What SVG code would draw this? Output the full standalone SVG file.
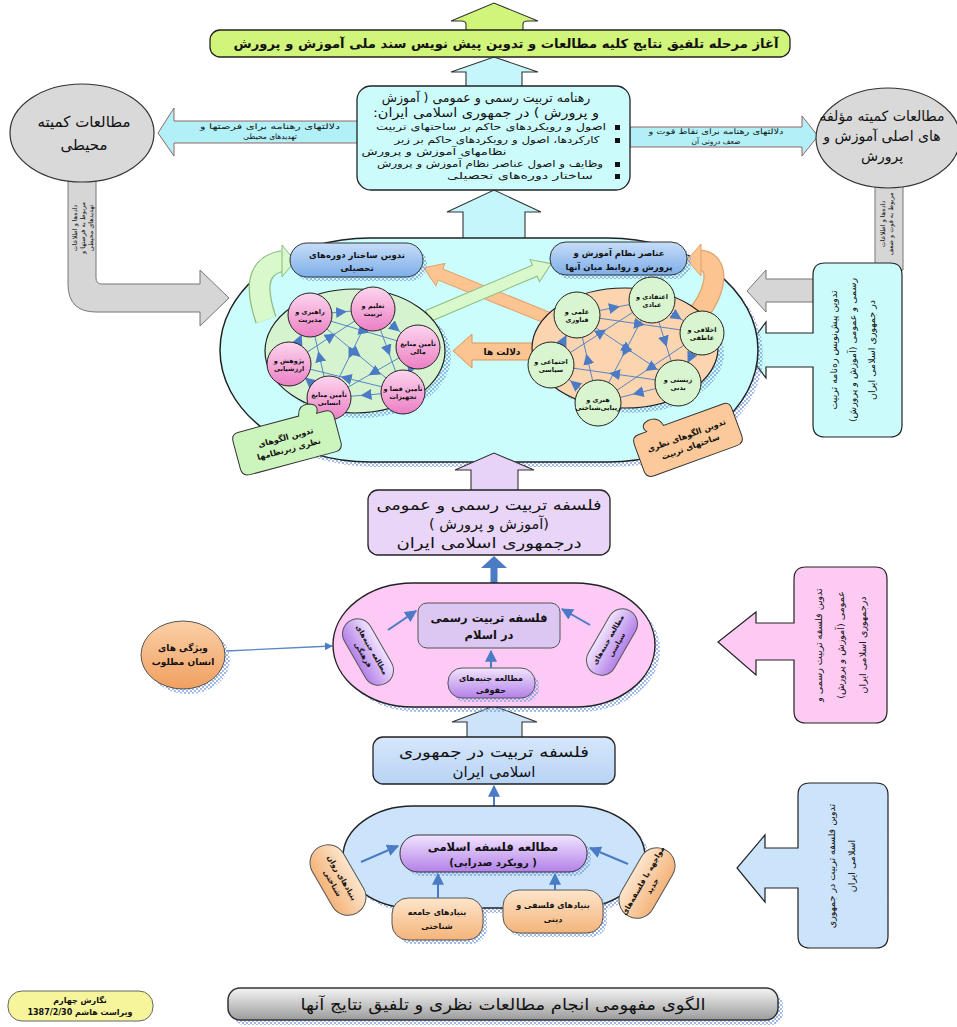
<svg xmlns="http://www.w3.org/2000/svg" width="957" height="1027" viewBox="0 0 957 1027">
<defs>
<style>
.t{font-family:"DejaVu Sans",sans-serif;fill:#111;direction:rtl}
.b{font-weight:bold}
.net{stroke:#4a7bc4;stroke-width:0.9;fill:none;marker-mid:url(#tri)}
.conn{stroke:#4a7bc4;stroke-width:2;fill:none;marker-end:url(#ah)}
.hat{fill:url(#hatch);opacity:0.75}
</style>
<pattern id="hatch" width="4" height="4" patternUnits="userSpaceOnUse">
<rect x="0" y="0" width="2" height="2" fill="#7ea3dc"/><rect x="2" y="2" width="2" height="2" fill="#7ea3dc"/>
</pattern>
<marker id="tri" viewBox="0 0 10 10" refX="5" refY="5" markerWidth="11" markerHeight="11" markerUnits="userSpaceOnUse" orient="auto">
<path d="M0,0 L10,5 L0,10 z" fill="#4a7bc4"/>
</marker>
<marker id="ah" viewBox="0 0 10 10" refX="9" refY="5" markerWidth="6" markerHeight="6" orient="auto">
<path d="M0,0 L10,5 L0,10 z" fill="#4a7bc4"/>
</marker>
<linearGradient id="gBluePill" x1="0" y1="0" x2="0" y2="1"><stop offset="0" stop-color="#c6ddf8"/><stop offset="1" stop-color="#7eaee9"/></linearGradient>
<linearGradient id="gPink" x1="0" y1="0" x2="0" y2="1"><stop offset="0" stop-color="#fcd6ee"/><stop offset="1" stop-color="#ec7fc4"/></linearGradient>
<linearGradient id="gPurple" x1="0" y1="0" x2="0" y2="1"><stop offset="0" stop-color="#f1e4ff"/><stop offset="1" stop-color="#b381e8"/></linearGradient>
<linearGradient id="gOrange" x1="0" y1="0" x2="0" y2="1"><stop offset="0" stop-color="#fde5cc"/><stop offset="1" stop-color="#f4b47a"/></linearGradient>
<linearGradient id="gOrangeC" x1="0" y1="0" x2="0" y2="1"><stop offset="0" stop-color="#fbcfa8"/><stop offset="1" stop-color="#f0a060"/></linearGradient>
<linearGradient id="gBlueBox" x1="0" y1="0" x2="0" y2="1"><stop offset="0" stop-color="#d6e7fb"/><stop offset="1" stop-color="#b7d3f5"/></linearGradient>
<linearGradient id="gGray" x1="0" y1="0" x2="0" y2="1"><stop offset="0" stop-color="#f4f4f4"/><stop offset="1" stop-color="#9c9c9c"/></linearGradient>
</defs>

<rect width="957" height="1027" fill="#ffffff"/>

<g id="connectors">
<path d="M466 32 V24 Q466 21 461 21 H451 L494 3 L538 21 H528 Q523 21 523 24 V32 Z" fill="#d0f57a" stroke="#333" stroke-width="1.1"/>
<path d="M466 90 V72 H451 L494 57 L538 72 H522 V90 Z" fill="#c4f6fb" stroke="#333" stroke-width="1.1"/>
<path d="M463 242 V212 H447 L494 190 L541 212 H525 V242 Z" fill="#c4f6fb" stroke="#333" stroke-width="1.1"/>
<path d="M358 121 H174 V108 L158 133 L174 156 V143 H358 Z" fill="#b2f0f8" stroke="#8a5555" stroke-width="0.9"/>
<text class="t" x="270" y="129" font-size="7.5" text-anchor="middle" textLength="140" lengthAdjust="spacingAndGlyphs">دلالتهای رهنامه برای فرصتها و</text>
<text class="t" x="270" y="138.5" font-size="7.5" text-anchor="middle">تهدیدهای محیطی</text>
<path d="M630 127 H802 V116 L818 136 L802 156 V147 H630 Z" fill="#b2f0f8" stroke="#8a5555" stroke-width="0.9"/>
<text class="t" x="716" y="134" font-size="7.5" text-anchor="middle" textLength="135" lengthAdjust="spacingAndGlyphs">دلالتهای رهنامه برای نقاط قوت و</text>
<text class="t" x="716" y="143.5" font-size="7.5" text-anchor="middle">ضعف درونی آن</text>
<path d="M68 180 V284 Q68 312 96 312 H200 V326 L229 298 L200 270 V284 H102 Q96 284 96 278 V180 Z" fill="#d6d6d6" stroke="#777" stroke-width="1"/>
<g transform="translate(82,228) rotate(-90)">
<text class="t" x="0" y="-5" font-size="6.5" text-anchor="middle">داده‌ها و اطلاعات</text>
<text class="t" x="0" y="3" font-size="6.5" text-anchor="middle">مربوط به فرصتها و</text>
<text class="t" x="0" y="11" font-size="6.5" text-anchor="middle">تهدیدهای محیطی</text>
</g>
<path d="M875 186 V270 H903 V186 Z" fill="#d6d6d6" stroke="#777" stroke-width="1"/>
<g transform="translate(889,224) rotate(-90)">
<text class="t" x="0" y="-4" font-size="6.5" text-anchor="middle">داده‌ها و اطلاعات</text>
<text class="t" x="0" y="4" font-size="6.5" text-anchor="middle">مربوط به قوت و ضعف</text>
</g>
<path d="M820 279 H766 V270 L747 291 L766 312 V302 H820 Z" fill="#d6d6d6" stroke="#777" stroke-width="1"/>
<line x1="226" y1="651" x2="332" y2="646" stroke="#5a86c6" stroke-width="1.3" marker-end="url(#ah)"/>
</g>

<g id="banner">
<rect x="210" y="30" width="580" height="27" rx="10" fill="#d0f57a" stroke="#222" stroke-width="1.3"/>
<text class="t b" x="506" y="48" font-size="12.5" text-anchor="middle" textLength="545" lengthAdjust="spacingAndGlyphs">آغاز مرحله تلفیق نتایج کلیه مطالعات و تدوین  پیش نویس سند ملی آموزش و پرورش</text>
</g>

<g id="doctrine-box">
<rect x="357" y="86" width="273" height="104" rx="14" fill="#ccfbfc" stroke="#222" stroke-width="1.3"/>
<text class="t" x="486" y="102" font-size="12.5" text-anchor="middle">رهنامه تربیت رسمی و عمومی ( آموزش</text>
<text class="t" x="486" y="117" font-size="12.5" text-anchor="middle" textLength="226" lengthAdjust="spacingAndGlyphs">و پرورش ) در جمهوری اسلامی ایران:</text>
<g fill="#111">
<rect x="615" y="125" width="5" height="5"/><rect x="615" y="138" width="5" height="5"/><rect x="615" y="162" width="5" height="5"/><rect x="615" y="174" width="5" height="5"/>
</g>
<text class="t" x="491" y="130" font-size="9.5" text-anchor="middle" textLength="230" lengthAdjust="spacingAndGlyphs">اصول و رویکردهای حاکم بر ساحتهای تربیت</text>
<text class="t" x="497" y="143" font-size="9.5" text-anchor="middle" textLength="205" lengthAdjust="spacingAndGlyphs">کارکردها، اصول و رویکردهای حاکم بر زیر</text>
<text class="t" x="434" y="155" font-size="9.5" text-anchor="middle" textLength="145" lengthAdjust="spacingAndGlyphs">نظامهای آموزش و پرورش</text>
<text class="t" x="490" y="167" font-size="9.5" text-anchor="middle" textLength="226" lengthAdjust="spacingAndGlyphs">وظایف و اصول عناصر نظام آموزش و پرورش</text>
<text class="t" x="520" y="179" font-size="9.5" text-anchor="middle" textLength="146" lengthAdjust="spacingAndGlyphs">ساختار دوره‌های تحصیلی</text>
</g>

<g id="env-committee">
<ellipse cx="82" cy="133" rx="72" ry="49" fill="#d9d9d9" stroke="#333" stroke-width="1.2"/>
<text class="t" x="84" y="127" font-size="15" text-anchor="middle">مطالعات کمیته</text>
<text class="t" x="84" y="150" font-size="15" text-anchor="middle">محیطی</text>
</g>

<g id="components-committee">
<ellipse cx="888" cy="138" rx="72" ry="50" fill="#d9d9d9" stroke="#333" stroke-width="1.2"/>
<text class="t" x="882" y="121" font-size="14" text-anchor="middle">مطالعات کمیته مؤلفه</text>
<text class="t" x="882" y="141" font-size="14" text-anchor="middle">های اصلی آموزش و</text>
<text class="t" x="882" y="161" font-size="14" text-anchor="middle">پرورش</text>
</g>

<g id="doctrine-draft">
<path d="M825 263 H890 Q902 263 902 275 V425 Q902 437 890 437 H825 Q813 437 813 425 V367 H766 V378 L745 350 L766 322 V333 H813 V275 Q813 263 825 263 Z" fill="#ccfbfc" stroke="#222" stroke-width="1.2"/>
<g transform="translate(857,350) rotate(-90)">
<text class="t" x="0" y="-20" font-size="9.5" text-anchor="middle">تدوین پیش‌نویس ره‌نامه تربیت</text>
<text class="t" x="0" y="-1" font-size="9.5" text-anchor="middle">رسمی و عمومی (آموزش و پرورش)</text>
<text class="t" x="0" y="18" font-size="9.5" text-anchor="middle">در جمهوری اسلامی ایران</text>
</g>
</g>

<g id="integration-oval">
<rect x="225" y="243" width="538" height="224" rx="150" ry="112" class="hat"/>
<rect x="220" y="238" width="538" height="224" rx="150" ry="112" fill="#ccfdfd" stroke="#222" stroke-width="1.5"/>
</g>

<g id="inner-arrows">
<path d="M266 320 C258 296 252 266 283 261" fill="none" stroke="#8dbb7e" stroke-width="22"/>
<path d="M266 320 C258 296 252 266 283 261" fill="none" stroke="#d9f8cc" stroke-width="19.5"/>
<path d="M282 245 L295 261 L282 277 Z" fill="#d9f8cc" stroke="#8dbb7e" stroke-width="1"/>
<path d="M692 320 C714 300 724 262 700 260" fill="none" stroke="#e2a36c" stroke-width="21"/>
<path d="M692 320 C714 300 724 262 700 260" fill="none" stroke="#fbc490" stroke-width="18.5"/>
<path d="M701 244 L687 260 L701 276 Z" fill="#fbc490" stroke="#e2a36c" stroke-width="1"/>
<g transform="translate(548,318) rotate(202)">
<path d="M0,-6 H116 V-12 L134,0 L116,12 V6 H0 Z" fill="#fbc490" stroke="#e2a36c" stroke-width="1"/>
</g>
<g transform="translate(428,316) rotate(-23)">
<path d="M0,-6 H116 V-12 L134,0 L116,12 V6 H0 Z" fill="#d9f8cc" stroke="#8dbb7e" stroke-width="1"/>
</g>
<path d="M540 343 H472 V334 L453 351 L472 368 V360 H540 Z" fill="#fbc490" stroke="#d9975c" stroke-width="1"/>
<text class="t b" x="502" y="355" font-size="9" text-anchor="middle">دلالت ها</text>
</g>

<g id="structure-pill">
<rect x="294" y="247" width="133" height="34" rx="17" class="hat"/>
<rect x="290" y="243" width="133" height="34" rx="17" fill="url(#gBluePill)" stroke="#333" stroke-width="1"/>
<text class="t b" x="357" y="258" font-size="8.5" text-anchor="middle">تدوین ساختار دوره‌های</text>
<text class="t b" x="357" y="271" font-size="8.5" text-anchor="middle">تحصیلی</text>
</g>

<g id="elements-pill">
<rect x="554" y="246" width="137" height="33" rx="16" class="hat"/>
<rect x="550" y="242" width="137" height="33" rx="16" fill="url(#gBluePill)" stroke="#333" stroke-width="1"/>
<text class="t b" x="619" y="256" font-size="8.5" text-anchor="middle">عناصر نظام آموزش و</text>
<text class="t b" x="619" y="270" font-size="8.5" text-anchor="middle">پرورش و روابط میان آنها</text>
</g>

<g id="subsystems">
<ellipse cx="361" cy="356" rx="90" ry="62" class="hat"/>
<ellipse cx="355" cy="351" rx="90" ry="62" fill="#d6f3cf" stroke="#222" stroke-width="1.2"/>
<path class="net" d="M310 315 L341.5 312 L373 309"/>
<path class="net" d="M373 309 L395.5 328 L418 347"/>
<path class="net" d="M418 347 L410.5 369.5 L403 392"/>
<path class="net" d="M403 392 L366 395 L329 398"/>
<path class="net" d="M329 398 L309 381 L289 364"/>
<path class="net" d="M289 364 L299.5 339.5 L310 315"/>
<path class="net" d="M310 315 L364 331 L418 347"/>
<path class="net" d="M373 309 L388 350.5 L403 392"/>
<path class="net" d="M418 347 L373.5 372.5 L329 398"/>
<path class="net" d="M403 392 L346 378 L289 364"/>
<path class="net" d="M329 398 L319.5 356.5 L310 315"/>
<path class="net" d="M289 364 L331 336.5 L373 309"/>
<path class="net" d="M310 315 L356.5 353.5 L403 392"/>
<path class="net" d="M373 309 L351 353.5 L329 398"/>
<g stroke="#222" stroke-width="1" fill="url(#gPink)">
<circle cx="310" cy="315" r="22"/><circle cx="373" cy="309" r="22"/><circle cx="418" cy="347" r="22"/>
<circle cx="403" cy="392" r="22"/><circle cx="329" cy="398" r="22"/><circle cx="289" cy="364" r="22"/>
</g>
<g font-size="6.5" text-anchor="middle">
<text class="t b" x="310" y="314">راهبری و</text><text class="t b" x="310" y="322">مدیریت</text>
<text class="t b" x="373" y="308">تعلیم و</text><text class="t b" x="373" y="316">تربیت</text>
<text class="t b" x="418" y="346">تأمین منابع</text><text class="t b" x="418" y="354">مالی</text>
<text class="t b" x="403" y="391">تأمین فضا و</text><text class="t b" x="403" y="399">تجهیزات</text>
<text class="t b" x="329" y="397">تأمین منابع</text><text class="t b" x="329" y="405">انسانی</text>
<text class="t b" x="289" y="363">پژوهش و</text><text class="t b" x="289" y="371">ارزشیابی</text>
</g>
</g>

<g id="domains">
<ellipse cx="631" cy="353" rx="93" ry="60" class="hat"/>
<ellipse cx="625" cy="348" rx="93" ry="60" fill="#fbd4b0" stroke="#222" stroke-width="1.2"/>
<path class="net" d="M577 315 L614.5 307.5 L652 300"/>
<path class="net" d="M652 300 L677 316.5 L702 333"/>
<path class="net" d="M702 333 L690 358 L678 383"/>
<path class="net" d="M678 383 L638 393 L598 403"/>
<path class="net" d="M598 403 L574.5 384 L551 365"/>
<path class="net" d="M551 365 L564 340 L577 315"/>
<path class="net" d="M577 315 L639.5 324 L702 333"/>
<path class="net" d="M652 300 L665 341.5 L678 383"/>
<path class="net" d="M702 333 L650 368 L598 403"/>
<path class="net" d="M678 383 L614.5 374 L551 365"/>
<path class="net" d="M598 403 L587.5 359 L577 315"/>
<path class="net" d="M551 365 L601.5 332.5 L652 300"/>
<path class="net" d="M577 315 L627.5 349 L678 383"/>
<path class="net" d="M652 300 L625 351.5 L598 403"/>
<g stroke="#222" stroke-width="1" fill="#d8f5d0">
<circle cx="652" cy="300" r="23"/><circle cx="577" cy="315" r="23"/><circle cx="702" cy="333" r="22"/>
<circle cx="551" cy="365" r="23"/><circle cx="678" cy="383" r="23"/><circle cx="598" cy="403" r="23"/>
</g>
<g font-size="6.5" text-anchor="middle">
<text class="t b" x="652" y="299">اعتقادی و</text><text class="t b" x="652" y="307">عبادی</text>
<text class="t b" x="577" y="314">علمی و</text><text class="t b" x="577" y="322">فناوری</text>
<text class="t b" x="702" y="332">اخلاقی و</text><text class="t b" x="702" y="340">عاطفی</text>
<text class="t b" x="551" y="364">اجتماعی و</text><text class="t b" x="551" y="372">سیاسی</text>
<text class="t b" x="678" y="382">زیستی و</text><text class="t b" x="678" y="390">بدنی</text>
<text class="t b" x="598" y="402">هنری و</text><text class="t b" x="598" y="410">زیبایی‌شناختی</text>
</g>
</g>

<g id="subsystem-models" transform="translate(287,442) rotate(-15)">
<path d="M-45,-22 H18 Q20,-33 31,-31 Q41,-28 36,-20 H45 Q52,-20 52,-12 V14 Q52,22 44,22 H-44 Q-52,22 -52,14 V-14 Q-52,-22 -45,-22 Z" fill="#ccf4bd" stroke="#333" stroke-width="1"/>
<text class="t b" x="0" y="-2" font-size="8" text-anchor="middle">تدوین الگوهای</text>
<text class="t b" x="0" y="10" font-size="8" text-anchor="middle">نظری زیرنظامها</text>
</g>
<g id="domain-models" transform="translate(688,440) rotate(-20)">
<path d="M-45,-22 H-36 Q-41,-30 -31,-32 Q-20,-33 -18,-22 H45 Q52,-22 52,-14 V14 Q52,22 44,22 H-44 Q-52,22 -52,14 V-14 Q-52,-22 -45,-22 Z" fill="#fbc99a" stroke="#333" stroke-width="1"/>
<text class="t b" x="0" y="-2" font-size="8" text-anchor="middle">تدوین الگوهای نظری</text>
<text class="t b" x="0" y="10" font-size="8" text-anchor="middle">ساحتهای تربیت</text>
</g>

<g id="connectors-front">
<path d="M471 492 V470 H455 L494 453 L534 470 H518 V492 Z" fill="#e6d3f7" stroke="#333" stroke-width="1.1"/>
<line x1="494" y1="584" x2="494" y2="566" stroke="#4a7bc4" stroke-width="7"/>
<path d="M481 568 L507 568 L494 556 Z" fill="#4a7bc4"/>
<path d="M467 738 V722 H452 L494 706 L537 722 H522 V738 Z" fill="#cde3fa" stroke="#333" stroke-width="1.1"/>
<line class="conn" x1="494" y1="806" x2="494" y2="786"/>
</g>

<g id="formal-philosophy">
<rect x="368" y="490" width="242" height="65" rx="10" fill="#e8d5f8" stroke="#222" stroke-width="1.3"/>
<text class="t" x="489" y="510" font-size="14.5" text-anchor="middle" textLength="225" lengthAdjust="spacingAndGlyphs">فلسفه تربیت رسمی و عمومی</text>
<text class="t" x="489" y="529" font-size="14.5" text-anchor="middle">(آموزش و پرورش )</text>
<text class="t" x="489" y="548" font-size="14.5" text-anchor="middle" textLength="185" lengthAdjust="spacingAndGlyphs">درجمهوری اسلامی ایران</text>
</g>

<g id="islam-philosophy-oval">
<rect x="338" y="588" width="322" height="124" rx="80" ry="62" class="hat"/>
<rect x="333" y="583" width="322" height="124" rx="80" ry="62" fill="#fdc9f5" stroke="#222" stroke-width="1.4"/>
<rect x="418" y="603" width="142" height="45" rx="9" fill="#dcc7f2" stroke="#555" stroke-width="1"/>
<text class="t b" x="489" y="622" font-size="11.5" text-anchor="middle">فلسفه تربیت رسمی</text>
<text class="t b" x="489" y="639" font-size="11.5" text-anchor="middle">در اسلام</text>
<g transform="translate(368,652) rotate(60)">
<rect x="-36" y="-15" width="72" height="30" rx="15" fill="url(#gPurple)" stroke="#555" stroke-width="1"/>
<text class="t b" x="0" y="-2" font-size="7" text-anchor="middle">مطالعه جنبه‌های</text>
<text class="t b" x="0" y="8" font-size="7" text-anchor="middle">فرهنگی</text>
</g>
<g transform="translate(612,642) rotate(-60)">
<rect x="-36" y="-15" width="72" height="30" rx="15" fill="url(#gPurple)" stroke="#555" stroke-width="1"/>
<text class="t b" x="0" y="-2" font-size="7" text-anchor="middle">مطالعه جنبه‌های</text>
<text class="t b" x="0" y="8" font-size="7" text-anchor="middle">سیاسی</text>
</g>
<rect x="452" y="672" width="87" height="30" rx="14" class="hat"/>
<rect x="448" y="668" width="87" height="30" rx="14" fill="url(#gPurple)" stroke="#555" stroke-width="1"/>
<text class="t b" x="491" y="681" font-size="8" text-anchor="middle">مطالعه جنبه‌های</text>
<text class="t b" x="491" y="693" font-size="8" text-anchor="middle">حقوقی</text>
<line class="conn" x1="388" y1="630" x2="416" y2="611"/>
<line class="conn" x1="491" y1="668" x2="491" y2="651"/>
<line class="conn" x1="590" y1="625" x2="562" y2="609"/>
</g>

<g id="desired-human">
<ellipse cx="188" cy="660" rx="42" ry="34" class="hat"/>
<ellipse cx="183" cy="655" rx="42" ry="34" fill="url(#gOrangeC)" stroke="#555" stroke-width="1"/>
<text class="t b" x="183" y="651" font-size="9" text-anchor="middle">ویژگی های</text>
<text class="t b" x="183" y="665" font-size="9" text-anchor="middle">انسان مطلوب</text>
</g>

<g id="formal-philosophy-draft">
<path d="M806 567 H875 Q887 567 887 579 V711 Q887 723 875 723 H806 Q794 723 794 711 V660 H756 V675 L718 642 L756 612 V623 H794 V579 Q794 567 806 567 Z" fill="#fdcaf3" stroke="#222" stroke-width="1.2"/>
<g transform="translate(841,645) rotate(-90)">
<text class="t" x="0" y="-19" font-size="9.5" text-anchor="middle">تدوین فلسفه تربیت رسمی و</text>
<text class="t" x="0" y="3" font-size="9.5" text-anchor="middle">عمومی (آموزش و پرورش)</text>
<text class="t" x="0" y="25" font-size="9.5" text-anchor="middle">درجمهوری اسلامی ایران</text>
</g>
</g>

<g id="iran-philosophy">
<rect x="373" y="737" width="242" height="47" rx="10" fill="url(#gBlueBox)" stroke="#222" stroke-width="1.3"/>
<text class="t" x="494" y="757" font-size="15" text-anchor="middle" textLength="190" lengthAdjust="spacingAndGlyphs">فلسفه تربیت در جمهوری</text>
<text class="t" x="494" y="777" font-size="15" text-anchor="middle">اسلامی ایران</text>
</g>

<g id="islamic-philosophy-oval">
<rect x="348" y="811" width="302" height="102" rx="70" ry="51" class="hat"/>
<rect x="343" y="806" width="302" height="102" rx="70" ry="51" fill="#cbe3fb" stroke="#222" stroke-width="1.4"/>
<rect x="404" y="839" width="187" height="37" rx="18" class="hat"/>
<rect x="400" y="835" width="187" height="37" rx="18" fill="url(#gPurple)" stroke="#333" stroke-width="1"/>
<text class="t b" x="493" y="851" font-size="11.5" text-anchor="middle">مطالعه فلسفه  اسلامی</text>
<text class="t b" x="493" y="866" font-size="10" text-anchor="middle">( رویکرد صدرایی)</text>
<g transform="translate(338,880) rotate(60)">
<rect x="-38" y="-18" width="76" height="36" rx="18" fill="url(#gOrange)" stroke="#555" stroke-width="1"/>
<text class="t b" x="0" y="-2" font-size="7.5" text-anchor="middle">بنیادهای روان</text>
<text class="t b" x="0" y="9" font-size="7.5" text-anchor="middle">شناختی</text>
</g>
<g transform="translate(647,883) rotate(-60)">
<rect x="-38" y="-18" width="76" height="36" rx="18" fill="url(#gOrange)" stroke="#555" stroke-width="1"/>
<text class="t b" x="0" y="-2" font-size="7.5" text-anchor="middle">مواجهه با فلسفه‌های</text>
<text class="t b" x="0" y="9" font-size="7.5" text-anchor="middle">جدید</text>
</g>
<rect x="396" y="902" width="91" height="42" rx="16" class="hat"/>
<rect x="392" y="898" width="91" height="42" rx="16" fill="url(#gOrange)" stroke="#555" stroke-width="1"/>
<text class="t b" x="437" y="915" font-size="8" text-anchor="middle">بنیادهای جامعه</text>
<text class="t b" x="437" y="929" font-size="8" text-anchor="middle">شناختی</text>
<rect x="507" y="894" width="100" height="43" rx="16" class="hat"/>
<rect x="503" y="890" width="100" height="43" rx="16" fill="url(#gOrange)" stroke="#555" stroke-width="1"/>
<text class="t b" x="553" y="908" font-size="8" text-anchor="middle">بنیادهای فلسفی و</text>
<text class="t b" x="553" y="922" font-size="8" text-anchor="middle">دینی</text>
<line class="conn" x1="361" y1="862" x2="398" y2="846"/>
<line class="conn" x1="438" y1="898" x2="438" y2="874"/>
<line class="conn" x1="555" y1="890" x2="555" y2="874"/>
<line class="conn" x1="628" y1="864" x2="590" y2="848"/>
</g>

<g id="iran-philosophy-draft">
<path d="M810 783 H876 Q888 783 888 795 V936 Q888 948 876 948 H810 Q798 948 798 936 V888 H765 V902 L737 868 L765 835 V848 H798 V795 Q798 783 810 783 Z" fill="#cbe3fb" stroke="#222" stroke-width="1.2"/>
<g transform="translate(843,866) rotate(-90)">
<text class="t" x="0" y="-8" font-size="9.5" text-anchor="middle">تدوین فلسفه تربیت در جمهوری</text>
<text class="t" x="0" y="12" font-size="9.5" text-anchor="middle">اسلامی ایران</text>
</g>
</g>

<g id="title">
<rect x="233" y="993" width="550" height="32" rx="12" class="hat"/>
<rect x="228" y="988" width="550" height="32" rx="12" fill="url(#gGray)" stroke="#333" stroke-width="1.5"/>
<text class="t" x="503" y="1010" font-size="16" text-anchor="middle" textLength="405" lengthAdjust="spacingAndGlyphs">الگوی مفهومی  انجام مطالعات نظری و تلفیق نتایج آنها</text>
</g>
<g id="version">
<rect x="8" y="991" width="145" height="30" rx="14" fill="#f6f59c" stroke="#666" stroke-width="1"/>
<text class="t b" x="80" y="1003" font-size="8" text-anchor="middle">نگارش چهارم</text>
<text class="t b" x="80" y="1015" font-size="8" text-anchor="middle">ویراست هاشم 1387/2/30</text>
</g>
</svg>
